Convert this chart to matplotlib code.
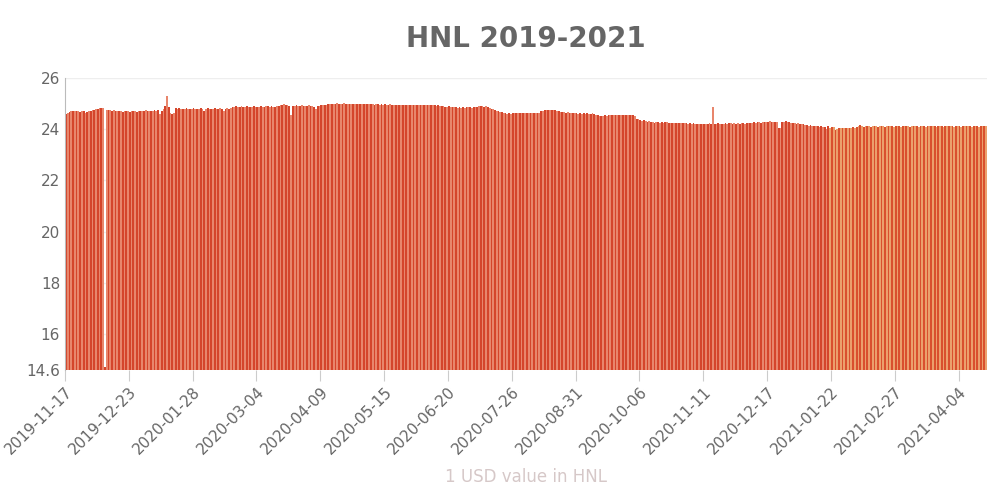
import matplotlib
matplotlib.use("Agg")
import matplotlib.pyplot as plt
import numpy as np
import datetime as dt

start = dt.date(2019, 11, 17)
values = [
24.60,24.62,24.66,24.70,24.70,24.72,24.70,24.72,24.68,24.70,
24.72,24.62,24.66,24.70,24.72,24.74,24.76,24.78,24.80,24.82,
24.84,24.82,14.70,24.76,24.75,24.74,24.72,24.74,24.72,24.70,
24.72,24.70,24.68,24.70,24.72,24.70,24.68,24.70,24.72,24.70,
24.68,24.70,24.72,24.70,24.72,24.74,24.72,24.70,24.72,24.70,
24.74,24.72,24.76,24.60,24.72,24.80,24.90,25.30,24.88,24.62,
24.60,24.62,24.82,24.80,24.82,24.80,24.78,24.80,24.82,24.80,
24.78,24.80,24.82,24.80,24.78,24.80,24.82,24.80,24.70,24.80,
24.82,24.80,24.78,24.80,24.82,24.80,24.78,24.82,24.80,24.70,
24.80,24.82,24.80,24.84,24.86,24.88,24.90,24.86,24.88,24.90,
24.86,24.88,24.90,24.88,24.86,24.88,24.90,24.88,24.86,24.88,
24.90,24.88,24.86,24.90,24.92,24.88,24.90,24.88,24.86,24.90,
24.92,24.94,24.96,24.98,24.96,24.94,24.92,24.55,24.90,24.92,
24.94,24.90,24.92,24.94,24.92,24.90,24.92,24.94,24.92,24.90,
24.88,24.78,24.90,24.92,24.94,24.96,24.95,24.96,24.98,24.97,
25.00,24.98,25.00,25.02,25.00,24.98,25.00,25.02,24.98,25.00,
24.99,25.00,24.98,24.99,25.00,24.98,25.00,24.99,25.00,24.98,
24.99,25.00,24.98,24.97,24.96,24.98,24.97,24.96,24.98,24.96,
24.97,24.95,24.96,24.98,24.96,24.95,24.96,24.95,24.94,24.96,
24.95,24.94,24.95,24.94,24.95,24.94,24.96,24.95,24.94,24.95,
24.94,24.95,24.94,24.93,24.94,24.95,24.94,24.93,24.94,24.92,
24.93,24.92,24.90,24.92,24.88,24.86,24.90,24.88,24.86,24.88,
24.86,24.84,24.86,24.82,24.85,24.84,24.86,24.88,24.86,24.84,
24.88,24.86,24.88,24.90,24.92,24.90,24.86,24.90,24.88,24.84,
24.80,24.78,24.75,24.72,24.70,24.68,24.66,24.65,24.62,24.60,
24.62,24.60,24.62,24.64,24.62,24.64,24.62,24.64,24.65,24.62,
24.64,24.63,24.62,24.64,24.63,24.62,24.64,24.63,24.70,24.72,
24.74,24.76,24.75,24.74,24.76,24.75,24.74,24.72,24.70,24.68,
24.68,24.66,24.65,24.66,24.64,24.64,24.62,24.63,24.62,24.60,
24.62,24.60,24.62,24.61,24.62,24.60,24.61,24.62,24.60,24.56,
24.55,24.52,24.50,24.52,24.54,24.52,24.55,24.56,24.55,24.54,
24.56,24.55,24.54,24.55,24.56,24.55,24.54,24.55,24.56,24.54,
24.55,24.52,24.40,24.38,24.36,24.34,24.35,24.32,24.30,24.32,
24.30,24.28,24.26,24.28,24.27,24.26,24.28,24.26,24.27,24.28,
24.26,24.25,24.26,24.24,24.26,24.25,24.26,24.24,24.25,24.26,
24.24,24.22,24.24,24.22,24.23,24.22,24.20,24.22,24.20,24.22,
24.21,24.20,24.22,24.24,24.22,24.85,24.20,24.22,24.24,24.22,
24.20,24.22,24.24,24.22,24.25,24.24,24.22,24.24,24.22,24.24,
24.22,24.24,24.23,24.22,24.24,24.26,24.24,24.26,24.28,24.26,
24.30,24.28,24.26,24.28,24.30,24.28,24.30,24.32,24.30,24.28,
24.30,24.28,24.05,24.06,24.28,24.30,24.32,24.30,24.28,24.26,
24.24,24.26,24.22,24.24,24.22,24.20,24.22,24.18,24.16,24.14,
24.15,24.14,24.12,24.14,24.12,24.10,24.12,24.10,24.08,24.00,
24.12,24.05,24.10,24.08,23.98,24.02,24.05,24.06,24.04,24.05,
24.06,24.05,24.04,24.06,24.08,24.06,24.10,24.12,24.15,24.12,
24.10,24.12,24.14,24.12,24.10,24.12,24.14,24.12,24.10,24.12,
24.11,24.12,24.10,24.12,24.12,24.11,24.12,24.10,24.12,24.11,
24.12,24.10,24.12,24.12,24.11,24.12,24.10,24.12,24.11,24.12,
24.12,24.10,24.12,24.11,24.12,24.10,24.12,24.11,24.12,24.12,
24.12,24.10,24.12,24.11,24.12,24.10,24.12,24.11,24.12,24.12,
24.12,24.10,24.12,24.11,24.12,24.10,24.12,24.11,24.12,24.12,
24.12,24.10,24.12,24.11,24.12,24.10,24.12,24.11,24.12,24.12,
]
dates = [start + dt.timedelta(days=i) for i in range(len(values))]
labels = [d.isoformat() for d in dates]
tick_step = 36

fig = plt.figure(figsize=(10, 5), dpi=100)
ax = fig.add_axes([0.065, 0.26, 0.922, 0.584])
x = np.arange(len(values))
colors = []
for i in range(len(values)):
    if i > 430:
        colors.append("#d9502e" if i % 2 == 0 else "#eba06c")
    else:
        colors.append("#d4452b" if i % 2 == 0 else "#e8866c")
ax.bar(x, np.array(values) - 14.6, bottom=14.6, width=1.0, color=colors, linewidth=0)
ax.set_xlim(-0.5, len(values) - 0.5)
ax.set_ylim(14.6, 26)
ax.set_yticks([14.6, 16, 18, 20, 22, 24, 26])
ax.set_yticklabels(["14.6", "16", "18", "20", "22", "24", "26"])
ax.set_xticks(x[::tick_step] - 0.5)
ax.set_xticklabels(labels[::tick_step], rotation=45, ha="right", rotation_mode="anchor")
ax.tick_params(axis="both", colors="#666666", labelsize=11, length=0)
ax.tick_params(axis="x", length=8, color="#cccccc", pad=2)
ax.grid(axis="y", color="#eeeeee", linewidth=1)
ax.set_axisbelow(True)
for s in ["top", "right", "bottom"]:
    ax.spines[s].set_visible(False)
ax.spines["left"].set_color("#bbbbbb")
ax.set_title("HNL 2019-2021", fontsize=20, fontweight="bold", color="#666666", pad=22)
ax.set_xlabel("1 USD value in HNL", color="#d6c8c8", fontsize=12, labelpad=8)
fig.savefig("out.png")
